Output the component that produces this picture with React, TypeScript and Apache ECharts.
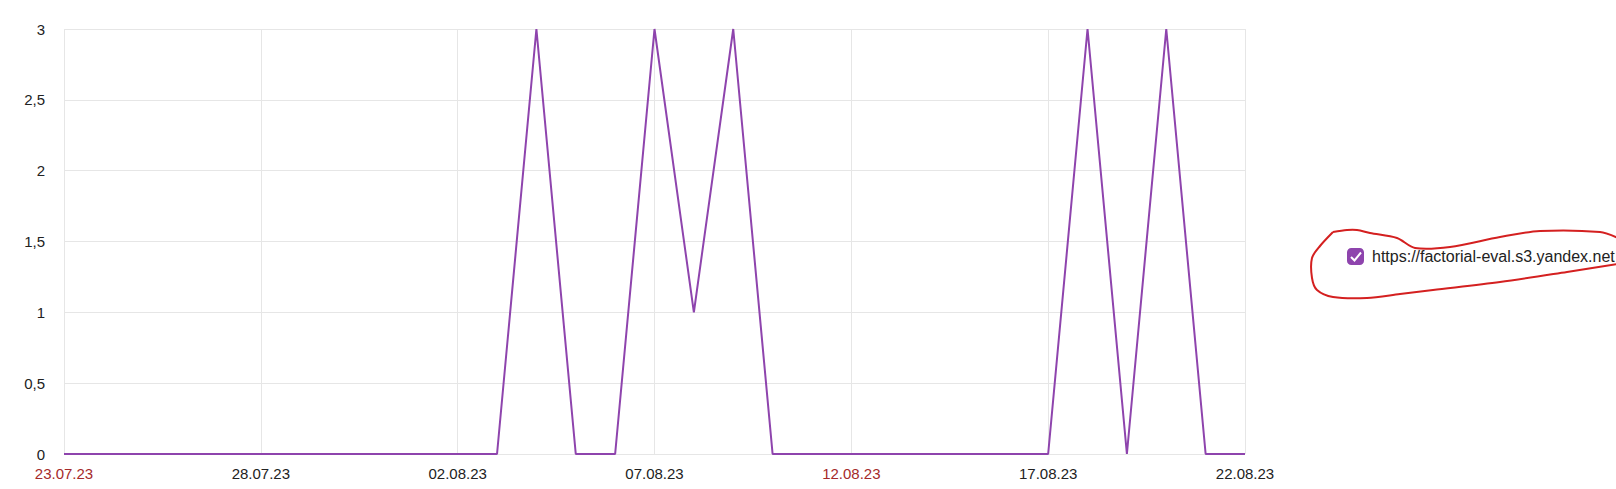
import React, { useEffect, useRef } from "react";
import * as echarts from "echarts";

const categories: string[] = [
  "23.07.23", "24.07.23", "25.07.23", "26.07.23", "27.07.23", "28.07.23", "29.07.23",
  "30.07.23", "31.07.23", "01.08.23", "02.08.23", "03.08.23", "04.08.23", "05.08.23",
  "06.08.23", "07.08.23", "08.08.23", "09.08.23", "10.08.23", "11.08.23", "12.08.23",
  "13.08.23", "14.08.23", "15.08.23", "16.08.23", "17.08.23", "18.08.23", "19.08.23",
  "20.08.23", "21.08.23", "22.08.23",
];

const seriesName = "https://factorial-eval.s3.yandex.net";
const seriesValues: number[] = [
  0, 0, 0, 0, 0, 0, 0, 0, 0, 0, 0, 0, 3, 0, 0, 3, 1, 3, 0, 0, 0, 0, 0, 0, 0, 0, 3, 0, 3, 0, 0,
];

const redLabels: string[] = ["23.07.23", "12.08.23"];

const FONT = "'Liberation Sans', Arial, sans-serif";
const PURPLE = "#8e44ad";

export default function App() {
  const ref = useRef<HTMLDivElement>(null);

  useEffect(() => {
    if (!ref.current) return;
    const chart = echarts.init(ref.current, undefined, { renderer: "svg" });
    chart.setOption({
      animation: false,
      backgroundColor: "#ffffff",
      grid: { left: 64, top: 29, right: 371, bottom: 35, containLabel: false },
      xAxis: {
        type: "category",
        data: categories,
        boundaryGap: false,
        axisLine: { show: false },
        axisTick: { show: false },
        axisLabel: {
          interval: 4,
          margin: 12,
          fontSize: 15,
          fontFamily: FONT,
          color: (value: string) => (redLabels.includes(value) ? "#a52a2a" : "#222222"),
        },
        splitLine: { show: true, interval: 4, lineStyle: { color: "#e6e6e6", width: 1 } },
      },
      yAxis: {
        type: "value",
        min: 0,
        max: 3,
        interval: 0.5,
        axisLine: { show: false },
        axisTick: { show: false },
        axisLabel: {
          margin: 19,
          fontSize: 15,
          fontFamily: FONT,
          color: "#222222",
          formatter: (v: number) => String(v).replace(".", ","),
        },
        splitLine: { show: true, lineStyle: { color: "#e6e6e6", width: 1 } },
      },
      legend: {
        show: true,
        left: 1347,
        top: 248,
        orient: "vertical",
        icon: "roundRect",
        itemWidth: 17,
        itemHeight: 17,
        padding: 0,
        selectedMode: false,
        textStyle: { fontSize: 16, fontFamily: FONT, color: "#222222", padding: [0, 0, 0, 3] },
        data: [{ name: seriesName, itemStyle: { color: PURPLE } }],
      },
      series: [
        {
          name: seriesName,
          type: "line",
          data: seriesValues,
          showSymbol: false,
          symbol: "none",
          lineStyle: { color: PURPLE, width: 2 },
          itemStyle: { color: PURPLE },
        },
      ],
      graphic: [
        {
          type: "polyline",
          z: 100,
          shape: { points: [[1351, 257], [1354.5, 260.5], [1361, 252.5]] },
          style: { stroke: "#ffffff", lineWidth: 2, fill: null },
        },
        {
          type: "polyline",
          z: 100,
          shape: {
            smooth: 0.3,
            points: [
              [1333, 232], [1347, 230], [1357, 230], [1370, 233], [1397, 238], [1415, 248],
              [1450, 247], [1500, 237], [1540, 231], [1600, 232], [1618, 238],
            ],
          },
          style: { stroke: "#d42020", lineWidth: 2, fill: null },
        },
        {
          type: "polyline",
          z: 100,
          shape: {
            smooth: 0.3,
            points: [
              [1618, 264], [1567, 272], [1500, 282], [1433, 290], [1400, 294], [1367, 298],
              [1333, 297], [1317, 290], [1312, 278], [1312, 258], [1320, 246], [1333, 232],
            ],
          },
          style: { stroke: "#d42020", lineWidth: 2, fill: null },
        },
      ],
    });
    return () => chart.dispose();
  }, []);

  return (
    <div
      ref={ref}
      style={{ position: "absolute", left: 0, top: 0, width: 1616, height: 489 }}
    />
  );
}
